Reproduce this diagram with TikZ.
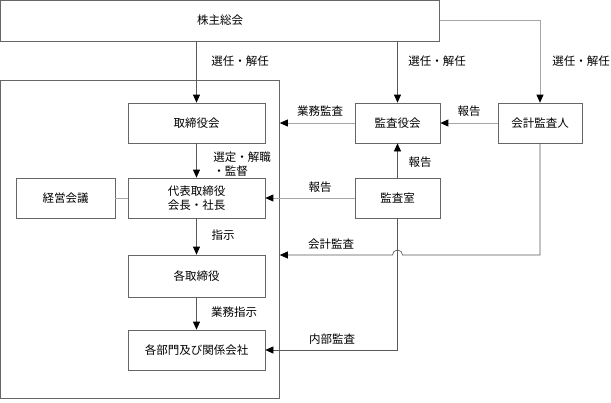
\documentclass[tikz,border=0pt]{standalone}
\usepackage{fontspec}
\setmainfont{Noto Sans CJK JP}
\usetikzlibrary{arrows.meta, positioning}

\begin{document}
\begin{tikzpicture}[x=1pt, y=-1pt,
        font=\fontsize{11.5}{14}\selectfont,
        box/.style={draw=black!60, line width=0.7pt, minimum width=137pt, minimum height=40pt, inner sep=0pt, align=center},
        sbox/.style={box, minimum width=85pt},
        dark/.style={draw=black!65, line width=0.7pt},
        light/.style={draw=black!35, line width=0.8pt},
        tip/.style={-{Triangle[length=8pt, width=7pt, black]}},
        lbl/.style={inner sep=0pt}]
        \useasboundingbox (0,0) rectangle (611,402);

        % Shareholders and company frame
        \node[box, minimum width=439pt, minimum height=41pt] (soukai) at (220,20.5) {株主総会};
        \node[draw=black!60, line width=0.7pt, minimum width=279pt, minimum height=318pt, inner sep=0pt] (kaisha) at (140,239) {};

        % Executive side
        \node[box] (torishimari) at (196.5,123) {取締役会};
        \node[box] (daihyo) at (196.5,198) {代表取締役\\会長・社長};
        \node[box, minimum width=99pt] (keiei) at (65.5,198) {経営会議};
        \node[box, minimum height=42pt] (kaku) at (196.5,276) {各取締役};
        \node[box] (bumon) at (196.5,350) {各部門及び関係会社};

        % Audit side
        \node[sbox] (kansayaku) at (397.5,123) {監査役会};
        \node[sbox] (kansashitsu) at (397.5,198) {監査室};
        \node[sbox, minimum width=84pt] (kaikei) at (540,123) {会計監査人};
        \coordinate (jump) at (kansashitsu.south |- 0,255);

        % Arrows from shareholders
        \draw[dark, tip] (soukai.south -| torishimari.north) -- (torishimari.north);
        \draw[dark, tip] (soukai.south -| kansayaku.north) -- (kansayaku.north);
        \draw[light, tip] (soukai.east) -| (kaikei.north);

        % Arrows executive
        \draw[dark, tip] (torishimari) -- (daihyo);
        \draw[light] (keiei) -- (daihyo);
        \draw[dark, tip] (daihyo) -- (kaku);
        \draw[dark, tip] (kaku) -- (bumon);

        % Arrows audit
        \draw[light, tip] (kaikei) -- (kansayaku);
        \draw[light, tip] (kansayaku) -- (kaisha.east |- kansayaku);
        \draw[dark, tip] (kansashitsu) -- (kansayaku);
        \draw[light, tip] (kansashitsu) -- (daihyo);
        \draw[dark, tip] (kansashitsu.south) |- (bumon);
        \draw[dark, tip] (kaikei.south) |- ([xshift=5pt]jump) arc[start angle=0, end angle=180, radius=5pt] -- (kaisha.east |- jump);

        % Labels
        \node[lbl] (l1) at (240,61) {選任・解任};
        \node[lbl] (l2) at (437,61) {選任・解任};
        \node[lbl] (l3) at (581,61) {選任・解任};
        \node[lbl] (l4) at (320,111) {業務監査};
        \node[lbl] (l5) at (469,111) {報告};
        \node[lbl, align=left] (l6) at (242,164) {選定・解職\\・監督};
        \node[lbl] (l7) at (420,162) {報告};
        \node[lbl] (l8) at (320,187) {報告};
        \node[lbl] (l9) at (223,235) {指示};
        \node[lbl] (l10) at (331,244) {会計監査};
        \node[lbl] (l11) at (234,312) {業務指示};
        \node[lbl] (l12) at (332,339) {内部監査};
    \end{tikzpicture}
\end{document}
